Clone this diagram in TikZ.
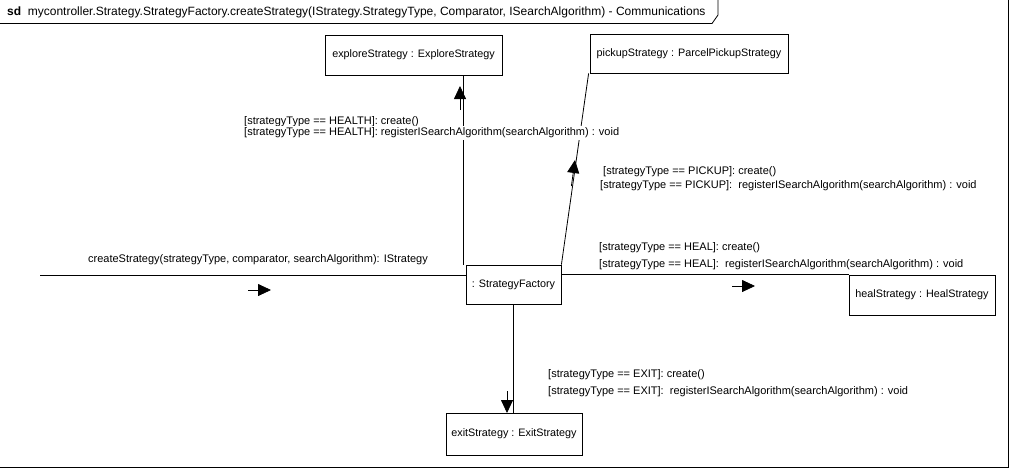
\documentclass[tikz,border=0pt]{standalone}
\usepackage{fontspec}
\setmainfont{Liberation Sans}
\usetikzlibrary{arrows.meta}
\begin{document}
\begin{tikzpicture}[x=1pt,y=-1pt,
  obj/.style={draw,line width=0.8pt,inner sep=0pt,font=\fontsize{10.8}{12}\selectfont},
  lbl/.style={inner sep=0pt,font=\fontsize{11}{12}\selectfont},
  msglbl/.style={lbl,fill=white,inner ysep=1.5pt,inner xsep=0pt},
  conn/.style={line width=0.8pt},
  dirmark/.style={line width=0.8pt,-{Triangle[length=13pt,width=12pt]}}]
\useasboundingbox (0,0) rectangle (1011,469);
% frame
\draw[line width=0.8pt] (1008,0) -- (1008,467) -- (0,467);
\draw[line width=0.8pt] (0,23.5) -- (712,23.5) -- (718,15) -- (718,0);
\node[lbl,anchor=west,font=\fontsize{12}{13}\selectfont] (title) at (7,12)
  {\textbf{sd}\ \ mycontroller.Strategy.StrategyFactory.createStrategy(IStrategy.StrategyType, Comparator, ISearchAlgorithm) - Communications};
% objects
\node[obj,minimum width=177pt,minimum height=40pt] (explore) at (413.5,55) {exploreStrategy : ExploreStrategy};
\node[obj,minimum width=198pt,minimum height=39pt] (pickup) at (689,53.5) {pickupStrategy : ParcelPickupStrategy};
\node[obj,minimum width=95pt,minimum height=39pt] (factory) at (513.5,284.5) {: StrategyFactory};
\node[obj,minimum width=146pt,minimum height=40pt] (heal) at (922,295) {healStrategy : HealStrategy};
\node[obj,minimum width=136pt,minimum height=42pt] (exit) at (514,434) {exitStrategy : ExitStrategy};
% connectors
\coordinate (start) at (40,275);
\draw[conn] (start) -- (start -| factory.west);
\draw[conn] ([xshift=49.5pt]explore.south) -- ([xshift=-50.5pt]factory.north);
\draw[conn] (factory.north east) -- ([xshift=-1pt]pickup.south west);
\draw[conn] (factory.east |- heal.north west) -- (heal.north west);
\draw[conn] (factory.south) -- (factory.south |- exit.north);
% direction markers
\coordinate (m1a) at (248,290); \coordinate (m1b) at (271,290);
\coordinate (m2a) at (460,110); \coordinate (m2b) at (460,86);
\coordinate (m3a) at (571.4,186); \coordinate (m3b) at (575,160);
\coordinate (m4a) at (732,286); \coordinate (m4b) at (755,286);
\coordinate (m5a) at (507,391); \coordinate (m5b) at (507,413);
\draw[dirmark] (m1a) -- (m1b);
\draw[dirmark] (m2a) -- (m2b);
\draw[dirmark] (m3a) -- (m3b);
\draw[dirmark] (m4a) -- (m4b);
\draw[dirmark] (m5a) -- (m5b);
% labels
\node[msglbl] (l0) at (258,260) {createStrategy(strategyType, comparator, searchAlgorithm): IStrategy};
\node[msglbl,anchor=west] (l1) at (244,122) {[strategyType == HEALTH]: create()};
\node[msglbl,anchor=west] (l2) at (244,133) {[strategyType == HEALTH]: registerISearchAlgorithm(searchAlgorithm) : void};
\node[msglbl,anchor=west] (l3) at (603,172) {[strategyType == PICKUP]: create()};
\node[msglbl,anchor=west] (l4) at (600,186) {[strategyType == PICKUP]:\ \ registerISearchAlgorithm(searchAlgorithm) : void};
\node[msglbl,anchor=west] (l5) at (599,248) {[strategyType == HEAL]: create()};
\node[msglbl,anchor=west] (l6) at (599,265) {[strategyType == HEAL]:\ \ registerISearchAlgorithm(searchAlgorithm) : void};
\node[msglbl,anchor=west] (l7) at (548,375) {[strategyType == EXIT]: create()};
\node[msglbl,anchor=west] (l8) at (548,392) {[strategyType == EXIT]:\ \ registerISearchAlgorithm(searchAlgorithm) : void};
\end{tikzpicture}
\end{document}
